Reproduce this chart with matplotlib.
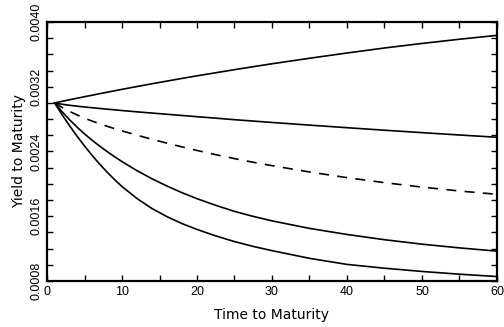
import matplotlib
matplotlib.use('Agg')
import matplotlib.pyplot as plt
from matplotlib.ticker import MultipleLocator, FormatStrFormatter

# time to maturity and yields
t = [1, 2, 3, 4, 5, 6, 7, 8, 9, 10, 12, 14, 16, 18, 20,
     22.5, 25, 27.5, 30, 35, 40, 45, 50, 55, 60]

y_up = [0.003000, 0.003020, 0.003039, 0.003058, 0.003077, 0.003095, 0.003114,
        0.003132, 0.003150, 0.003168, 0.003203, 0.003237, 0.003270, 0.003303,
        0.003335, 0.003373, 0.003411, 0.003448, 0.003484, 0.003552, 0.003617,
        0.003679, 0.003735, 0.003787, 0.003835]
y_flat = [0.003000, 0.002984, 0.002971, 0.002960, 0.002950, 0.002941, 0.002932,
          0.002923, 0.002915, 0.002906, 0.002890, 0.002875, 0.002860, 0.002845,
          0.002830, 0.002812, 0.002793, 0.002776, 0.002759, 0.002726, 0.002694,
          0.002663, 0.002633, 0.002604, 0.002576]
y_dash = [0.003000, 0.002945, 0.002896, 0.002852, 0.002812, 0.002776, 0.002743,
          0.002712, 0.002683, 0.002655, 0.002601, 0.002551, 0.002503, 0.002457,
          0.002413, 0.002361, 0.002312, 0.002267, 0.002225, 0.002147, 0.002077,
          0.002015, 0.001960, 0.001912, 0.001871]
y_low = [0.003000, 0.002892, 0.002793, 0.002702, 0.002618, 0.002540, 0.002468,
         0.002400, 0.002336, 0.002275, 0.002163, 0.002063, 0.001973, 0.001891,
         0.001817, 0.001735, 0.001660, 0.001598, 0.001543, 0.001450, 0.001375,
         0.001310, 0.001255, 0.001209, 0.001169]
y_lowest = [0.003000, 0.002856, 0.002719, 0.002590, 0.002468, 0.002353, 0.002246,
            0.002146, 0.002053, 0.001967, 0.001819, 0.001695, 0.001595, 0.001509,
            0.001437, 0.001357, 0.001287, 0.001227, 0.001175, 0.001080, 0.001005,
            0.000958, 0.000918, 0.000884, 0.000855]

plt.rcParams['font.family'] = ['Liberation Sans', 'DejaVu Sans']

fig = plt.figure(figsize=(5.04, 3.27), dpi=100)
ax = fig.add_axes([0.0933, 0.1407, 0.8927, 0.792])

for y in [y_up, y_flat, y_low, y_lowest]:
    ax.plot(t, y, color='black', lw=1.2)
ax.plot(t, y_dash, color='black', lw=1.2, linestyle=(0, (6, 5)))

ax.set_xlim(0, 60)
ax.set_ylim(0.0008, 0.0040)
ax.xaxis.set_major_locator(MultipleLocator(10))
ax.xaxis.set_minor_locator(MultipleLocator(5))
ax.yaxis.set_major_locator(MultipleLocator(0.0008))
ax.yaxis.set_minor_locator(MultipleLocator(0.0002))
ax.yaxis.set_major_formatter(FormatStrFormatter('%.4f'))

ax.tick_params(which='both', direction='in', top=True, right=True,
               length=4, width=1, labelsize=9)
for lab in ax.get_yticklabels():
    lab.set_rotation(90)
    lab.set_va('center')

for s in ax.spines.values():
    s.set_linewidth(1.6)

ax.set_xlabel('Time to Maturity', fontsize=10, family='DejaVu Sans', labelpad=7)
ax.set_ylabel('Yield to Maturity', fontsize=10, family='DejaVu Sans', labelpad=3)

fig.savefig('out.png', dpi=100)
